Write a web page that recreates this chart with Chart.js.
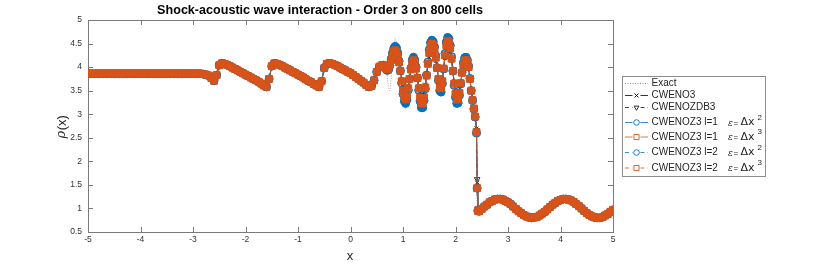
<!DOCTYPE html>
<html>
<head>
<meta charset="utf-8">
<script src="https://cdn.jsdelivr.net/npm/chart.js@4.4.0/dist/chart.umd.min.js"></script>
<style>
body { margin: 0; background: #fff; }
#wrap { width: 830px; height: 265px; }
</style>
</head>
<body>
<div id="wrap"><canvas id="chart" width="830" height="265"></canvas></div>
<script>
// Shock-acoustic wave interaction (Shu-Osher), density profiles

// Tick positions
const xTicks = [-5, -4, -3, -2, -1, 0, 1, 2, 3, 4, 5];
const yTicks = [0.5, 1, 1.5, 2, 2.5, 3, 3.5, 4, 4.5, 5];

// Smooth part left of the oscillations (all schemes agree here)
const xLeft = [
    -5.00,-4.95,-4.90,-4.85,-4.80,-4.75,-4.70,-4.65,-4.60,-4.55,
    -4.50,-4.45,-4.40,-4.35,-4.30,-4.25,-4.20,-4.15,-4.10,-4.05,
    -4.00,-3.95,-3.90,-3.85,-3.80,-3.75,-3.70,-3.65,-3.60,-3.55,
    -3.50,-3.45,-3.40,-3.35,-3.30,-3.25,-3.20,-3.15,-3.10,-3.05,
    -3.00,-2.95,-2.90,-2.85,-2.80,-2.75,-2.70,-2.65,-2.60,-2.55,
    -2.50,-2.45,-2.40,-2.35,-2.30,-2.25,-2.20,-2.15,-2.10,-2.05,
    -2.00,-1.95,-1.90,-1.85,-1.80,-1.75,-1.70,-1.65,-1.60,-1.55,
    -1.50,-1.45,-1.40,-1.35,-1.30,-1.25,-1.20,-1.15,-1.10,-1.05,
    -1.00,-0.95,-0.90,-0.85,-0.80,-0.75,-0.70,-0.65,-0.60,-0.55,
    -0.50,-0.45,-0.40,-0.35,-0.30,-0.25,-0.20,-0.15,-0.10,-0.05,
    0.00,0.05,0.10,0.15,0.20,0.25,0.30,0.35,0.40,0.45,
    0.50,0.55,0.60
];
const rhoLeft = [
    3.86,3.86,3.86,3.86,3.86,3.86,3.86,3.86,3.86,3.86,
    3.86,3.86,3.86,3.86,3.86,3.86,3.86,3.86,3.86,3.86,
    3.86,3.86,3.86,3.86,3.86,3.86,3.86,3.86,3.86,3.86,
    3.86,3.86,3.86,3.86,3.86,3.86,3.86,3.86,3.86,3.86,
    3.86,3.86,3.86,3.86,3.85,3.84,3.82,3.77,3.71,3.83,
    4.04,4.08,4.07,4.05,4.02,3.99,3.96,3.93,3.90,3.87,
    3.84,3.81,3.78,3.75,3.72,3.69,3.65,3.61,3.58,3.75,
    4.02,4.08,4.07,4.05,4.02,3.99,3.96,3.93,3.90,3.87,
    3.84,3.81,3.78,3.74,3.71,3.68,3.64,3.61,3.58,3.70,
    3.98,4.07,4.08,4.07,4.05,4.02,3.99,3.96,3.93,3.90,
    3.87,3.83,3.79,3.75,3.71,3.67,3.62,3.58,3.60,3.72,
    3.90,4.01,4.04
];

// Oscillatory zone behind the shock, where the schemes differ
const xOsc = [
    0.625,0.650,0.675,0.700,0.725,0.750,0.775,0.800,0.825,0.850,
    0.875,0.900,0.925,0.950,0.975,1.000,1.025,1.050,1.075,1.100,
    1.125,1.150,1.175,1.200,1.225,1.250,1.275,1.300,1.325,1.350,
    1.375,1.400,1.425,1.450,1.475,1.500,1.525,1.550,1.575,1.600,
    1.625,1.650,1.675,1.700,1.725,1.750,1.775,1.800,1.825,1.850,
    1.875,1.900,1.925,1.950,1.975,2.000,2.025,2.050,2.075,2.100,
    2.125,2.150,2.175,2.200,2.225,2.250,2.275,2.300,2.325,2.350,
    2.375,2.400,2.4125,2.425
];
const rhoOscExact = [
    4.04,4.02,3.95,3.80,3.55,3.50,3.75,4.15,4.45,4.60,
    4.55,4.38,4.15,3.90,3.60,3.35,3.18,3.12,3.22,3.48,
    3.78,4.05,4.22,4.28,4.22,4.05,3.78,3.48,3.20,3.05,
    3.05,3.22,3.50,3.85,4.18,4.45,4.60,4.66,4.62,4.50,
    4.28,4.00,3.70,3.45,3.40,3.60,3.95,4.33,4.60,4.70,
    4.66,4.52,4.26,3.93,3.58,3.30,3.16,3.17,3.35,3.62,
    3.90,4.12,4.25,4.27,4.20,4.05,3.78,3.52,3.30,3.12,
    2.98,2.90,0.96,0.95
];
const rhoOscCweno3 = [
    4.02,3.99,3.98,3.97,3.99,4.05,4.12,4.19,4.24,4.26,
    4.24,4.17,4.06,3.92,3.75,3.59,3.47,3.43,3.48,3.61,
    3.77,3.92,4.03,4.07,4.03,3.93,3.77,3.60,3.45,3.36,
    3.36,3.45,3.63,3.84,4.04,4.21,4.33,4.37,4.35,4.27,
    4.13,3.96,3.78,3.65,3.63,3.75,3.97,4.19,4.36,4.44,
    4.42,4.31,4.13,3.92,3.70,3.52,3.42,3.43,3.54,3.70,
    3.87,4.00,4.07,4.08,4.04,3.96,3.74,3.51,3.33,3.16,
    2.98,2.70,1.55,0.98
];
const rhoOscZdb3 = [
    4.03,4.00,3.97,3.96,3.98,4.05,4.14,4.22,4.29,4.31,
    4.29,4.21,4.08,3.92,3.72,3.54,3.41,3.37,3.43,3.58,
    3.76,3.94,4.07,4.11,4.07,3.95,3.77,3.57,3.40,3.29,
    3.29,3.40,3.60,3.83,4.06,4.26,4.39,4.44,4.41,4.32,
    4.17,3.97,3.76,3.61,3.59,3.72,3.97,4.22,4.41,4.50,
    4.48,4.36,4.16,3.92,3.67,3.47,3.36,3.37,3.49,3.68,
    3.88,4.03,4.11,4.12,4.07,3.98,3.75,3.51,3.32,3.14,
    2.97,2.66,1.62,1.00
];
// CWENOZ3 with eps = dx^2 (l=1 and l=2 overlap)
const rhoOscZ3e2 = [
    4.04,4.01,3.96,3.93,3.95,4.04,4.17,4.30,4.40,4.44,
    4.41,4.30,4.13,3.92,3.66,3.43,3.28,3.23,3.31,3.51,
    3.75,3.98,4.15,4.21,4.15,4.00,3.77,3.51,3.28,3.14,
    3.14,3.29,3.54,3.83,4.11,4.37,4.52,4.57,4.54,4.43,
    4.24,3.99,3.72,3.50,3.47,3.65,3.96,4.29,4.53,4.63,
    4.60,4.46,4.22,3.92,3.61,3.36,3.23,3.24,3.40,3.64,
    3.89,4.09,4.20,4.21,4.15,4.02,3.76,3.50,3.29,3.11,
    2.94,2.60,1.43,0.95
];
// CWENOZ3 with eps = dx^3 (l=1 and l=2 overlap)
const rhoOscZ3e3 = [
    4.03,4.00,3.97,3.95,3.97,4.05,4.15,4.25,4.33,4.36,
    4.33,4.24,4.10,3.92,3.70,3.50,3.36,3.31,3.38,3.55,
    3.75,3.95,4.10,4.15,4.10,3.97,3.77,3.55,3.35,3.23,
    3.23,3.35,3.57,3.82,4.07,4.30,4.45,4.50,4.47,4.37,
    4.20,3.98,3.75,3.57,3.55,3.70,3.97,4.25,4.46,4.56,
    4.53,4.40,4.18,3.92,3.65,3.43,3.31,3.32,3.45,3.66,
    3.88,4.05,4.14,4.15,4.10,4.00,3.75,3.50,3.30,3.12,
    2.95,2.62,1.43,0.95
];

// Undisturbed sine wave ahead of the shock
const xRight = [
    2.45,2.50,2.55,2.60,2.65,2.70,2.75,2.80,2.85,2.90,
    2.95,3.00,3.05,3.10,3.15,3.20,3.25,3.30,3.35,3.40,
    3.45,3.50,3.55,3.60,3.65,3.70,3.75,3.80,3.85,3.90,
    3.95,4.00,4.05,4.10,4.15,4.20,4.25,4.30,4.35,4.40,
    4.45,4.50,4.55,4.60,4.65,4.70,4.75,4.80,4.85,4.90,
    4.95,5.00
];
const rhoRight = [
    0.94,0.99,1.04,1.08,1.13,1.16,1.19,1.20,1.20,1.19,
    1.16,1.13,1.09,1.04,0.99,0.94,0.90,0.86,0.83,0.81,
    0.80,0.81,0.82,0.85,0.89,0.93,0.98,1.03,1.08,1.12,
    1.16,1.18,1.20,1.20,1.19,1.17,1.14,1.09,1.05,1.00,
    0.95,0.90,0.86,0.83,0.81,0.80,0.80,0.82,0.85,0.88,
    0.93,0.97
];

const legendNames = ['Exact', 'CWENO3', 'CWENOZDB3', 'CWENOZ3 l=1', 'CWENOZ3 l=1', 'CWENOZ3 l=2', 'CWENOZ3 l=2'];
const legendEpsPower = [null, null, null, '2', '3', '2', '3'];

const BLUE = '#0072BD';
const ORANGE = '#D95319';
const FONT = '"Liberation Sans", Arial, Helvetica, sans-serif';

// Join the three pieces of a profile into {x, y} points
function profile(oscValues) {
    const xs = xLeft.concat(xOsc, xRight);
    const ys = rhoLeft.concat(oscValues, rhoRight);
    return xs.map((x, i) => ({ x: x, y: ys[i] }));
}

// Dense markers of 800 cells merge into a band: emulate it with a wide
// stroke where the profile is gentle, and a thin one across steep jumps
function bandWidth(wide) {
    return seg => Math.abs(seg.p1.parsed.y - seg.p0.parsed.y) < 0.14 ? wide : 0.7;
}

function markerSet(style, color, fill, radius, dash, order, data, label, wide) {
    const ds = {
        label: label,
        data: data,
        borderColor: color,
        borderWidth: 0.7,
        borderDash: dash,
        borderJoinStyle: 'round',
        borderCapStyle: 'round',
        pointStyle: style,
        pointRadius: radius,
        pointHoverRadius: radius,
        pointBorderColor: color,
        pointBorderWidth: 0.9,
        pointBackgroundColor: fill,
        pointRotation: style === 'triangle' ? 180 : 0,
        order: order
    };
    if (wide) {
        ds.segment = { borderWidth: bandWidth(wide) };
    }
    return ds;
}

const datasets = [
    {
        label: 'Exact',
        data: profile(rhoOscExact),
        borderColor: '#8c8c8c',
        borderWidth: 0.8,
        borderDash: [1, 1.5],
        pointRadius: 0,
        order: 7
    },
    markerSet('crossRot', '#000000', 'rgba(0,0,0,0)', 2.6, [], 6, profile(rhoOscCweno3), 'CWENO3', 0),
    markerSet('triangle', '#1a1a1a', 'rgba(0,0,0,0)', 3.2, [4, 3], 5, profile(rhoOscZdb3), 'CWENOZDB3', 0),
    markerSet('circle', BLUE, 'rgba(0,114,189,0.35)', 3.9, [], 4, profile(rhoOscZ3e2), 'CWENOZ3 l=1 e2', 7.2),
    markerSet('rect', ORANGE, 'rgba(217,83,25,0.6)', 4.8, [], 3, profile(rhoOscZ3e3), 'CWENOZ3 l=1 e3', 6.2),
    markerSet('circle', BLUE, 'rgba(0,0,0,0)', 3.9, [4, 3], 2, profile(rhoOscZ3e2), 'CWENOZ3 l=2 e2', 0),
    markerSet('rect', ORANGE, 'rgba(217,83,25,0.9)', 4.6, [4, 3], 1, profile(rhoOscZ3e3), 'CWENOZ3 l=2 e3', 0)
];

// Draw a single marker for the legend
function drawMarker(ctx, style, x, y, r) {
    ctx.beginPath();
    if (style === 'circle') {
        ctx.arc(x, y, r, 0, Math.PI * 2);
    } else if (style === 'rect') {
        ctx.rect(x - r * 0.71, y - r * 0.71, r * 1.42, r * 1.42);
    } else if (style === 'triangle') {
        ctx.moveTo(x - r * 0.87, y - r * 0.5);
        ctx.lineTo(x + r * 0.87, y - r * 0.5);
        ctx.lineTo(x, y + r);
        ctx.closePath();
    } else if (style === 'crossRot') {
        const d = r * 0.71;
        ctx.moveTo(x - d, y - d); ctx.lineTo(x + d, y + d);
        ctx.moveTo(x + d, y - d); ctx.lineTo(x - d, y + d);
    }
    ctx.stroke();
}

// MATLAB-like frame, inward ticks, title, labels and boxed legend
const matlabLook = {
    id: 'matlabLook',
    beforeDatasetsDraw(chart) {
        const ctx = chart.ctx;
        const a = chart.chartArea;
        const sx = chart.scales.x;
        const sy = chart.scales.y;
        ctx.save();
        ctx.strokeStyle = '#7a7a7a';
        ctx.lineWidth = 1;
        ctx.strokeRect(Math.round(a.left) + 0.5, Math.round(a.top) + 0.5,
            Math.round(a.right - a.left), Math.round(a.bottom - a.top));
        ctx.beginPath();
        xTicks.forEach(v => {
            const px = Math.round(sx.getPixelForValue(v)) + 0.5;
            ctx.moveTo(px, a.bottom); ctx.lineTo(px, a.bottom - 5);
            ctx.moveTo(px, a.top); ctx.lineTo(px, a.top + 5);
        });
        yTicks.forEach(v => {
            const py = Math.round(sy.getPixelForValue(v)) + 0.5;
            ctx.moveTo(a.left, py); ctx.lineTo(a.left + 5, py);
            ctx.moveTo(a.right, py); ctx.lineTo(a.right - 5, py);
        });
        ctx.stroke();
        ctx.restore();
    },
    afterDraw(chart) {
        const ctx = chart.ctx;
        ctx.save();

        // Title
        const title = 'Shock-acoustic wave interaction - Order 3 on 800 cells';
        ctx.fillStyle = '#000';
        ctx.font = 'bold 10px ' + FONT;
        const size = 10 * 326 / ctx.measureText(title).width;
        ctx.font = 'bold ' + size.toFixed(2) + 'px ' + FONT;
        ctx.textAlign = 'center';
        ctx.textBaseline = 'middle';
        ctx.fillText(title, 320, 10.5);

        // Axis labels
        ctx.fillStyle = '#262626';
        ctx.font = '13px ' + FONT;
        ctx.fillText('x', 350, 256);

        ctx.save();
        ctx.translate(62, 127);
        ctx.rotate(-Math.PI / 2);
        ctx.font = 'italic 13px "DejaVu Serif", serif';
        const rhoW = ctx.measureText('ρ').width;
        ctx.font = '13px ' + FONT;
        const restW = ctx.measureText('(x)').width;
        const start = -(rhoW + restW) / 2;
        ctx.textAlign = 'left';
        ctx.font = 'italic 13px "DejaVu Serif", serif';
        ctx.fillText('ρ', start, 0);
        ctx.font = '13px ' + FONT;
        ctx.fillText('(x)', start + rhoW + 0.5, 0);
        ctx.restore();

        // Legend box
        const box = { left: 622, top: 76, right: 765, bottom: 176 };
        ctx.fillStyle = '#fff';
        ctx.fillRect(box.left, box.top, box.right - box.left, box.bottom - box.top);
        ctx.strokeStyle = '#8c8c8c';
        ctx.lineWidth = 1;
        ctx.strokeRect(box.left + 0.5, box.top + 0.5, box.right - box.left, box.bottom - box.top);

        const rowY = [83.5, 95.5, 107.5, 122.5, 137, 152.5, 168];
        const lineX0 = 625, lineX1 = 648, midX = 636.5;
        datasets.forEach((ds, i) => {
            const y = rowY[i];
            ctx.save();
            ctx.strokeStyle = ds.borderColor;
            ctx.lineWidth = i === 0 ? 1 : 0.8;
            ctx.setLineDash(i === 0 ? [1, 1.5] : (ds.borderDash.length ? [4, 3] : []));
            ctx.beginPath();
            if (i === 0) {
                ctx.moveTo(lineX0, y); ctx.lineTo(lineX1, y);
            } else {
                // leave a gap around the marker
                ctx.moveTo(lineX0, y); ctx.lineTo(midX - 4, y);
                ctx.moveTo(midX + 4, y); ctx.lineTo(lineX1, y);
            }
            ctx.stroke();
            ctx.setLineDash([]);
            if (i > 0) {
                ctx.lineWidth = 0.9;
                drawMarker(ctx, ds.pointStyle, midX, y, ds.pointStyle === 'rect' ? 3.6 : 2.8);
            }
            ctx.restore();

            ctx.fillStyle = '#262626';
            ctx.font = '10px ' + FONT;
            ctx.textAlign = 'left';
            ctx.textBaseline = 'middle';
            ctx.fillText(legendNames[i], 651.5, y);

            const p = legendEpsPower[i];
            if (p) {
                ctx.font = 'italic 9px "DejaVu Serif", serif';
                ctx.fillText('ε', 728, y + 1);
                ctx.font = '8px ' + FONT;
                ctx.fillText('=', 733.5, y + 1);
                ctx.font = '11px "DejaVu Sans", sans-serif';
                ctx.fillText('Δx', 740.5, y);
                ctx.font = '8px ' + FONT;
                ctx.fillText(p, 757.5, y - 5);
            }
        });
        ctx.restore();
    }
};

function initChart() {
    const ctx = document.getElementById('chart').getContext('2d');
    new Chart(ctx, {
        type: 'line',
        data: { datasets: datasets },
        options: {
            responsive: false,
            animation: false,
            events: [],
            layout: { padding: { left: 0, right: 217, top: 20, bottom: 0 } },
            elements: { line: { tension: 0, fill: false } },
            plugins: {
                legend: { display: false },
                tooltip: { enabled: false },
                title: { display: false }
            },
            scales: {
                x: {
                    type: 'linear',
                    min: -5,
                    max: 5,
                    grid: { display: false, drawTicks: false },
                    border: { display: false },
                    afterBuildTicks: s => { s.ticks = xTicks.map(v => ({ value: v })); },
                    afterFit: s => { s.height = 33; },
                    ticks: {
                        color: '#333',
                        font: { family: FONT, size: 8.5 },
                        padding: 3,
                        maxRotation: 0,
                        callback: v => String(v)
                    }
                },
                y: {
                    type: 'linear',
                    min: 0.5,
                    max: 5,
                    grid: { display: false, drawTicks: false },
                    border: { display: false },
                    afterBuildTicks: s => { s.ticks = yTicks.map(v => ({ value: v })); },
                    afterFit: s => { s.width = 88; },
                    ticks: {
                        color: '#333',
                        font: { family: FONT, size: 8.5 },
                        padding: 6,
                        callback: v => String(v)
                    }
                }
            }
        },
        plugins: [matlabLook]
    });
}

document.addEventListener('DOMContentLoaded', initChart);
</script>
</body>
</html>
